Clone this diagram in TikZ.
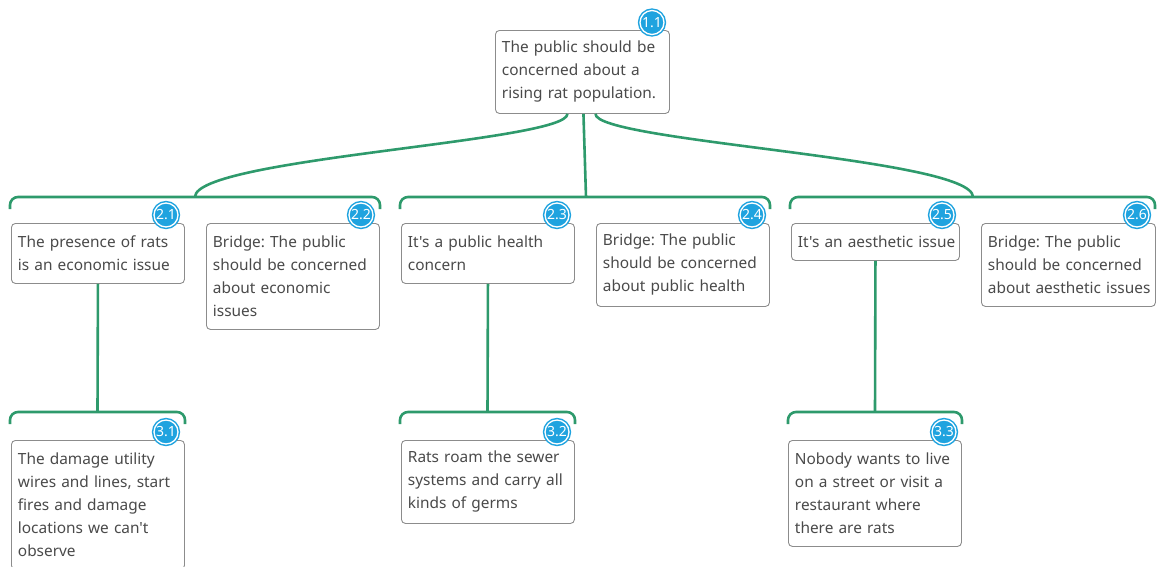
\documentclass[tikz,border=0pt]{standalone}
\usepackage{fontspec}
\setmainfont{Noto Sans}[Ligatures=TeXOff]
\definecolor{txt}{HTML}{4A4A4A}
\definecolor{frame}{HTML}{8C8C8C}
\definecolor{grn}{HTML}{2E9A6C}
\definecolor{badgeblue}{HTML}{1FA3DF}
\frenchspacing
\begin{document}
\begin{tikzpicture}[x=1pt,y=-1pt,
  box/.style={draw=frame, line width=0.9pt, rounded corners=4pt, fill=white,
    anchor=north west, align=left, inner xsep=6.5pt, inner ysep=0pt,
    font=\fontsize{15.4}{23}\selectfont\frenchspacing, text=txt},
  badgenode/.style={circle, fill=badgeblue, draw=badgeblue, double=white,
    double distance=1.3pt, line width=1.5pt, minimum size=24pt, inner sep=0pt,
    text=white, font=\fontsize{14}{14}\selectfont\bfseries},
  link/.style={draw=grn, line width=2.6pt},
  bracket/.style={draw=grn, line width=2.6pt, rounded corners=8pt}]
\useasboundingbox (0,0) rectangle (1158,566);

% brackets
\draw[bracket] (10,209) -- (10,197) -- (380,197) -- (380,209);
\draw[bracket] (400,209) -- (400,197) -- (770,197) -- (770,209);
\draw[bracket] (790,209) -- (790,197) -- (1155,197) -- (1155,209);
\draw[bracket] (10,424) -- (10,412) -- (185,412) -- (185,424);
\draw[bracket] (400,424) -- (400,412) -- (575,412) -- (575,424);
\draw[bracket] (788,424) -- (788,412) -- (962,412) -- (962,424);
\coordinate (k1) at (195,197);
\coordinate (k2) at (586,197);
\coordinate (k3) at (973,197);
\coordinate (k31) at (97.5,412);
\coordinate (k32) at (487.5,412);
\coordinate (k33) at (875,412);

% boxes
\node[box, minimum width=174pt, minimum height=83pt, text width=161pt] (n11) at (495,30)
  {The public should be\\concerned about a\\rising rat population.};
\node[box, minimum width=173pt, minimum height=60pt, text width=160pt] (n21) at (11,223)
  {The presence of rats\\is an economic issue};
\node[box, minimum width=173pt, minimum height=106pt, text width=160pt] (n22) at (206,223)
  {Bridge: The public\\should be concerned\\about economic\\issues};
\node[box, minimum width=173pt, minimum height=60pt, text width=160pt] (n23) at (401,223)
  {It's a public health\\concern};
\node[box, minimum width=173pt, minimum height=83pt, text width=160pt] (n24) at (596,223)
  {Bridge: The public\\should be concerned\\about public health};
\node[box, minimum width=168pt, minimum height=37pt, text width=155pt] (n25) at (791,223)
  {\mbox{It's an aesthetic issue}};
\node[box, minimum width=174pt, minimum height=83pt, text width=161pt] (n26) at (981,223)
  {Bridge: The public\\should be concerned\\\mbox{about aesthetic issues}};
\node[box, minimum width=173pt, minimum height=129pt, text width=160pt] (n31) at (11,440)
  {The damage utility\\\mbox{wires and lines, start}\\fires and damage\\locations we can't\\observe};
\node[box, minimum width=173pt, minimum height=83pt, text width=160pt] (n32) at (401,440)
  {Rats roam the sewer\\\mbox{systems and carry all}\\kinds of germs};
\node[box, minimum width=173pt, minimum height=106pt, text width=160pt] (n33) at (788,440)
  {Nobody wants to live\\\mbox{on a street or visit a}\\restaurant where\\there are rats};

% connectors
\draw[link] ([xshift=-15pt]n11.south) .. controls +(0,28) and (195,158) .. (k1);
\draw[link] ([xshift=1pt]n11.south) -- (k2);
\draw[link] ([xshift=13pt]n11.south) .. controls +(0,28) and (973,158) .. (k3);
\draw[link] (n21.south) -- (k31);
\draw[link] (n23.south) -- (k32);
\draw[link] (n25.south) -- (k33);

% badges
\node[badgenode] (b11) at (652,22.5) {1.1};
\node[badgenode] (b21) at (166,215) {2.1};
\node[badgenode] (b22) at (361,215) {2.2};
\node[badgenode] (b23) at (557,215) {2.3};
\node[badgenode] (b24) at (752,215) {2.4};
\node[badgenode] (b25) at (942,215) {2.5};
\node[badgenode] (b26) at (1137,215) {2.6};
\node[badgenode] (b31) at (166,432) {3.1};
\node[badgenode] (b32) at (557,432) {3.2};
\node[badgenode] (b33) at (944,432) {3.3};
\end{tikzpicture}
\end{document}
